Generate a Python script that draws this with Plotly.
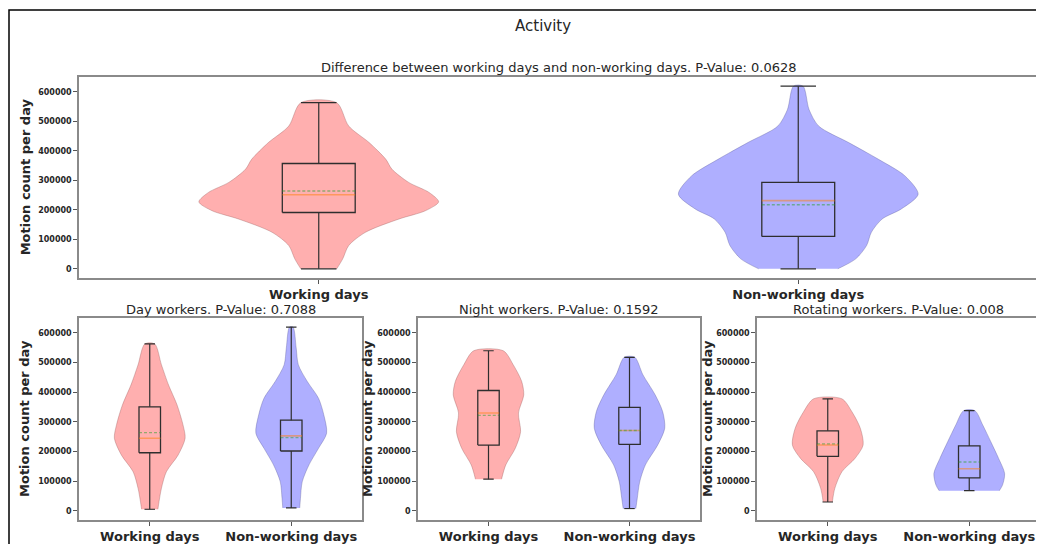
import plotly.graph_objects as go

# page body has an 8px margin; map reference pixels into the figure box
OFF = 8
W, H = 1044 - OFF, 544 - OFF

groups = ["Working days", "Non-working days"]
positions = [1, 2]

fig_title = "Activity"
panel_titles = [
    "Difference between working days and non-working days. P-Value: 0.0628",
    "Day workers. P-Value: 0.7088",
    "Night workers. P-Value: 0.1592",
    "Rotating workers. P-Value: 0.008",
]
y_label = "Motion count per day"
y_ticks = [0, 100000, 200000, 300000, 400000, 500000, 600000]

# Violin density profiles: motion-count levels and relative width (max = 1)
all_work_y = [0, 34000, 79000, 124000, 169000, 197000, 227000, 259000, 293000, 338000, 371000, 428000, 484000, 563000]
all_work_d = [0.15, 0.20, 0.25, 0.39, 0.67, 0.89, 1.0, 0.92, 0.75, 0.61, 0.56, 0.42, 0.25, 0.15]
all_nonwork_y = [0, 34000, 79000, 124000, 169000, 203000, 253000, 315000, 371000, 428000, 484000, 540000, 619000]
all_nonwork_d = [0.33, 0.48, 0.57, 0.61, 0.70, 0.86, 1.0, 0.89, 0.67, 0.42, 0.17, 0.09, 0.04]

day_work_y = [5600, 76000, 132000, 188000, 245000, 290000, 358000, 425000, 493000, 563000]
day_work_d = [0.23, 0.33, 0.47, 0.80, 1.0, 0.94, 0.77, 0.53, 0.33, 0.14]
day_nonwork_y = [10000, 42000, 98000, 155000, 211000, 262000, 324000, 380000, 437000, 493000, 549000, 620000]
day_nonwork_d = [0.24, 0.26, 0.31, 0.50, 0.77, 1.0, 0.92, 0.77, 0.45, 0.20, 0.14, 0.05]

night_work_y = [107000, 155000, 211000, 267000, 330000, 391000, 437000, 493000, 540000]
night_work_d = [0.37, 0.49, 0.76, 0.91, 0.85, 1.0, 0.94, 0.70, 0.42]
night_nonwork_y = [8000, 42000, 98000, 155000, 222000, 279000, 335000, 391000, 459000, 518000]
night_nonwork_d = [0.18, 0.22, 0.29, 0.45, 0.80, 1.0, 0.94, 0.73, 0.38, 0.15]

rot_work_y = [30000, 76000, 132000, 177000, 222000, 279000, 335000, 378000]
rot_work_d = [0.13, 0.20, 0.40, 0.77, 1.0, 0.92, 0.68, 0.40]
rot_nonwork_y = [68000, 87000, 126000, 177000, 233000, 290000, 338000]
rot_nonwork_d = [0.85, 0.94, 1.0, 0.83, 0.61, 0.38, 0.16]

# Box statistics: [min, q1, median, mean, q3, max]
all_work_box = [0, 191000, 251000, 264000, 357000, 563000]
all_nonwork_box = [0, 110000, 231000, 217000, 293000, 619000]
day_work_box = [5600, 196000, 245000, 264000, 351000, 563000]
day_nonwork_box = [10000, 202000, 253000, 247000, 306000, 620000]
night_work_box = [107000, 222000, 330000, 322000, 406000, 540000]
night_nonwork_box = [8000, 224000, 271000, 271000, 349000, 518000]
rot_work_box = [30000, 184000, 222000, 226000, 270000, 378000]
rot_nonwork_box = [68000, 111000, 142000, 165000, 219000, 338000]

panels = [
    [(all_work_y, all_work_d, all_work_box), (all_nonwork_y, all_nonwork_d, all_nonwork_box)],
    [(day_work_y, day_work_d, day_work_box), (day_nonwork_y, day_nonwork_d, day_nonwork_box)],
    [(night_work_y, night_work_d, night_work_box), (night_nonwork_y, night_nonwork_d, night_nonwork_box)],
    [(rot_work_y, rot_work_d, rot_work_box), (rot_nonwork_y, rot_nonwork_d, rot_nonwork_box)],
]

# ---- style ----
FONT = "DejaVu Sans"
TXT = "#262626"
fills = ["#FFAFAF", "#AFAFFF"]
edges = ["rgba(150,90,90,0.35)", "rgba(90,90,150,0.35)"]
BOXC = "#2e2e2e"
MEDC = "rgba(255,127,14,0.5)"
MEANC = "rgba(44,160,44,0.5)"
HALF_VIOLIN = 0.25
HALF_BOX = 0.076
HALF_CAP = 0.037

# domains in reference pixels (left, right, top, bottom)
dom_px = [(79, 1038, 77, 279), (79, 362, 319, 522), (418, 700, 319, 522), (757, 1040, 319, 522)]
ylab_x = [25, 25, 368, 708]
title_y = [68, 311, 311, 311]


def px(xp):
    return (xp - OFF) / W


def py(yp):
    return 1 - (yp - OFF) / H


fig = go.Figure()

for k, panel in enumerate(panels):
    xa = "x" if k == 0 else f"x{k+1}"
    ya = "y" if k == 0 else f"y{k+1}"
    for g, (ys, ds, box) in enumerate(panel):
        p = positions[g]
        xs = [p + HALF_VIOLIN * d for d in ds] + [p - HALF_VIOLIN * d for d in reversed(ds)]
        yy = list(ys) + list(reversed(ys))
        fig.add_trace(go.Scatter(
            x=xs, y=yy, mode="lines", fill="toself", fillcolor=fills[g],
            line=dict(color=edges[g], width=1, shape="spline", smoothing=0.8),
            xaxis=xa, yaxis=ya, showlegend=False, hoverinfo="skip"))
        mn, q1, med, mean, q3, mx = box
        bx = [p - HALF_BOX, p + HALF_BOX, p + HALF_BOX, p - HALF_BOX, p - HALF_BOX]
        by = [q1, q1, q3, q3, q1]
        wx = [p, p, None, p, p, None, p - HALF_CAP, p + HALF_CAP, None, p - HALF_CAP, p + HALF_CAP]
        wy = [q1, mn, None, q3, mx, None, mn, mn, None, mx, mx]
        fig.add_trace(go.Scatter(x=wx, y=wy, mode="lines", line=dict(color=BOXC, width=1.2),
                                 xaxis=xa, yaxis=ya, showlegend=False, hoverinfo="skip"))
        fig.add_trace(go.Scatter(x=bx, y=by, mode="lines", line=dict(color=BOXC, width=1.3),
                                 xaxis=xa, yaxis=ya, showlegend=False, hoverinfo="skip"))
        fig.add_trace(go.Scatter(x=[p - HALF_BOX, p + HALF_BOX], y=[med, med], mode="lines",
                                 line=dict(color=MEDC, width=1.6),
                                 xaxis=xa, yaxis=ya, showlegend=False, hoverinfo="skip"))
        fig.add_trace(go.Scatter(x=[p - HALF_BOX, p + HALF_BOX], y=[mean, mean], mode="lines",
                                 line=dict(color=MEANC, width=1.4, dash="3px,2px"),
                                 xaxis=xa, yaxis=ya, showlegend=False, hoverinfo="skip"))

axis_common = dict(showgrid=False, zeroline=False, showline=True, mirror=True,
                   linecolor="#8a8a8a", linewidth=1.5, ticks="outside", ticklen=4,
                   tickcolor="#555555", tickwidth=1)

layout = dict(width=W, height=H, margin=dict(l=0, r=0, t=0, b=0),
              paper_bgcolor="white", plot_bgcolor="white", showlegend=False,
              font=dict(family=FONT, color=TXT))

annotations = []
for k in range(4):
    l, r, t, b = dom_px[k]
    xkey = "xaxis" if k == 0 else f"xaxis{k+1}"
    ykey = "yaxis" if k == 0 else f"yaxis{k+1}"
    xan = "y" if k == 0 else f"y{k+1}"
    yan = "x" if k == 0 else f"x{k+1}"
    layout[xkey] = dict(axis_common, domain=[px(l), px(r)], anchor=xan, range=[0.5, 2.5],
                        tickvals=positions, ticktext=groups,
                        tickfont=dict(family=FONT, size=13, weight="bold", color=TXT))
    layout[ykey] = dict(axis_common, domain=[py(b), py(t)], anchor=yan,
                        range=[-31000, 651000], tickvals=y_ticks, tickformat="d",
                        tickfont=dict(family=FONT, size=8, weight="bold", color=TXT))
    annotations.append(dict(text=panel_titles[k], xref="paper", yref="paper",
                            x=px((l + r) / 2), y=py(title_y[k]), xanchor="center",
                            yanchor="middle", showarrow=False,
                            font=dict(family=FONT, size=13, color=TXT)))
    annotations.append(dict(text=y_label, xref="paper", yref="paper",
                            x=px(ylab_x[k]), y=py((t + b) / 2), xanchor="center",
                            yanchor="middle", textangle=-90, showarrow=False,
                            font=dict(family=FONT, size=13, weight="bold", color=TXT)))

annotations.append(dict(text=fig_title, xref="paper", yref="paper", x=px(543), y=py(26),
                        xanchor="center", yanchor="middle", showarrow=False,
                        font=dict(family=FONT, size=15, color=TXT)))
layout["annotations"] = annotations
layout["shapes"] = [dict(type="rect", xref="paper", yref="paper", x0=1 / W, x1=1.02,
                         y0=-0.02, y1=py(10), line=dict(color="black", width=1.5))]

fig.update_layout(**layout)
fig.write_html("out.html")
